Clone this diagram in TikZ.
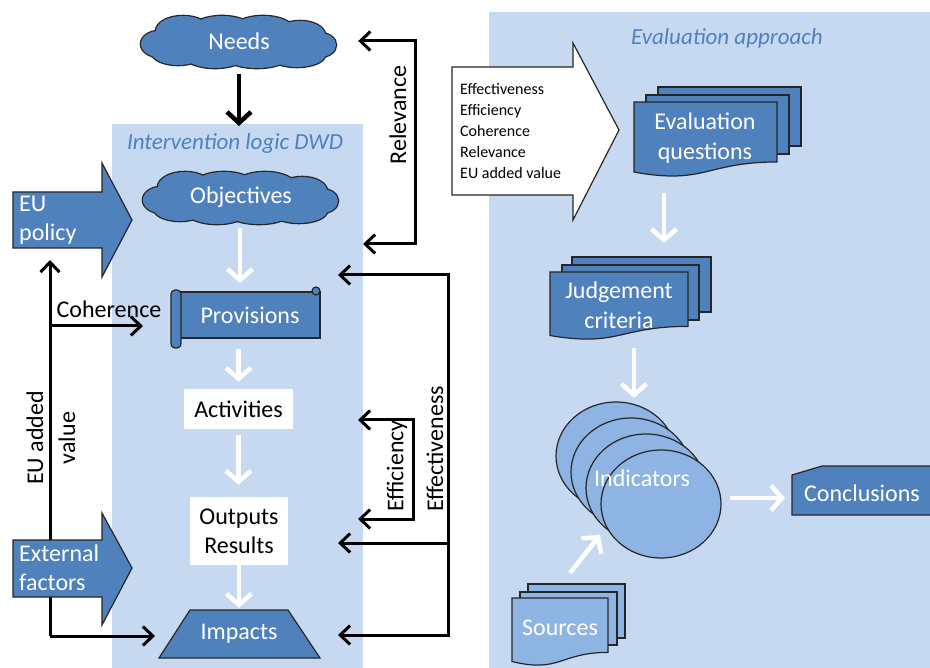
\documentclass[tikz,border=0pt]{standalone}
\usepackage{fontspec}
\setmainfont{Carlito}
\usetikzlibrary{arrows.meta,shapes.symbols,shapes.geometric,calc}
\definecolor{panel}{RGB}{198,217,241}
\definecolor{dblue}{RGB}{79,129,189}
\definecolor{lblue}{RGB}{141,180,226}
\definecolor{ttl}{RGB}{79,129,189}
\newcommand\docfront[5]{%
\draw[line width=1.2, draw=black!85, fill=#1] (#2,#4) -- (#3,#4) -- (#3,{#4+0.8*#5}) .. controls ({(#2+#3)/2},{#4+0.8*#5}) and ({(#2+#3)/2},{#4+1.107*#5}) .. (#2,{#4+0.934*#5}) -- cycle;}
\newcommand\puffset{-80/2/18/13, -56/-11/27/15, -17/-14/29/12, 24/-13/30/13, 61/-7/25/14, 81/3/16/12, 58/13/28/12, 18/14/32/12, -24/14/30/12, -61/11/26/12, 0/0/80/18}
\newcommand\mycloud[2]{%
\begin{scope}[shift={(#1,#2)}]
\foreach \a/\b/\rx/\ry in \puffset {\draw[draw=black!85, line width=2.6, fill=dblue] (\a,\b) ellipse ({\rx pt} and {\ry pt});}
\foreach \a/\b/\rx/\ry in \puffset {\fill[dblue] (\a,\b) ellipse ({\rx pt} and {\ry pt});}
\end{scope}}
\begin{document}
\begin{tikzpicture}[x=1pt,y=-1pt,
  every node/.style={font=\fontsize{24}{29}\selectfont},
  cloudtext/.style={minimum width=192, minimum height=52, text=white, inner sep=0},
  bk/.style={line width=3, -{Straight Barb[length=10pt,width=19pt]}, black},
  bkb/.style={line width=3, {Straight Barb[length=10pt,width=19pt]}-{Straight Barb[length=10pt,width=19pt]}, black},
  wt/.style={line width=4.5, -{Straight Barb[length=11pt,width=25pt]}, white},
  shp/.style={fill=dblue, draw=black!85, line width=1.2},
  lshp/.style={fill=lblue, draw=black!85, line width=1.2},
  ttlstyle/.style={text=ttl, font=\fontsize{23}{28}\selectfont\itshape},
  wtext/.style={text=white, inner sep=0, align=center},
]
\useasboundingbox (0,0) rectangle (930,668);
\fill[white] (0,0) rectangle (930,668);
\fill[panel] (112,124) rectangle (363,668);
\fill[panel] (489,12) rectangle (930,668);
\node[ttlstyle] (t1) at (235,143) {Intervention logic DWD};
\node[ttlstyle] (t2) at (727,38) {Evaluation approach};

% ---------- left column nodes
\mycloud{239}{42}
\node[cloudtext] (needs) at (239,41) {Needs};
\mycloud{241}{198}
\node[cloudtext] (obj) at (241,197) {Objectives};
\coordinate (needsin) at (239,126);
\draw[line width=4.5, -{Straight Barb[length=11pt,width=24pt]}, shorten <=7pt] (needs.south) -- (needsin);

% Provisions scroll
\node[shp, minimum width=140, minimum height=46, inner sep=0, text=white] (prov) at (250,315) {Provisions};
\draw[shp, rounded corners=4] (171,290) rectangle (181,348);
\draw[shp] (316,291) circle (4pt);

\node[fill=white, minimum width=109, minimum height=40, inner sep=0] (act) at (238.5,409) {Activities};
\node[fill=white, minimum width=98, minimum height=68, inner sep=0, align=center] (out) at (239,531) {Outputs\\Results};

\fill[dblue] (159,658) -- (190,610) -- (288,610) -- (320,658) -- cycle;
\draw[line width=1.2, black!85] (159,658) -- (190,610) -- (288,610) -- (320,658) -- cycle;
\node[wtext, minimum width=98, minimum height=48] (imp) at (239,634) {Impacts};

% white arrows in the column
\draw[wt, shorten <=5pt, shorten >=9pt] (240,223) -- (240,292);
\draw[wt, shorten <=10pt, shorten >=7pt] (act.north |- prov.south) -- (act.north);
\draw[wt, shorten <=6pt, shorten >=12pt] (act.south) -- (act.south |- out.north);
\draw[wt, shorten >=2pt] (out.south) -- (imp.north);

% ---------- Relevance
\coordinate (relin) at (363,244);
\draw[bkb, shorten <=23pt] (needs.east) -- (415,41) -- (415,244) -- (relin);
\node[rotate=90] (rel) at (398,115) {Relevance};

% ---------- Effectiveness
\coordinate (ef1) at (338,275);
\coordinate (ef2) at (338,543);
\coordinate (ef3) at (338,635);
\draw[bkb] (ef1) -- (448,275) -- (448,635) -- (ef3);
\draw[bk] (448,543) -- (ef2);
\node[rotate=90] (effl) at (435,449) {Effectiveness};

% ---------- Efficiency
\coordinate (ey1) at (358,420);
\coordinate (ey2) at (358,519);
\draw[bkb] (ey1) -- (413,420) -- (413,519) -- (ey2);
\node[rotate=90] (effy) at (397,466) {Efficiency};

% ---------- Coherence / EU added value
\coordinate (euup) at (50,260);
\coordinate (cohin) at (143,326);
\coordinate (impin) at (155,636);
\draw[bk] (50,636) -- (euup);
\draw[bk] (50,636) -- (impin);
\draw[bk] (50,326) -- (cohin);
\node (coh) at (109,309) {Coherence};
\node[rotate=90, align=center, font=\fontsize{24}{32}\selectfont] (euav) at (51,438) {EU added\\value};

% block arrows
\draw[shp] (13,192) -- (102,192) -- (102,163) -- (132,220) -- (102,277) -- (102,248) -- (13,248) -- cycle;
\node[wtext, anchor=west, align=left] (eup) at (19,220) {EU\\policy};
\draw[shp] (13,540) -- (102,540) -- (102,513) -- (132,568) -- (102,625) -- (102,597) -- (13,597) -- cycle;
\node[wtext, anchor=west, align=left] (ext) at (19,568) {External\\factors};

% ---------- right side
\draw[fill=white, draw=black!85, line width=1.2] (452,67) -- (573,67) -- (573,43) -- (619,130) -- (573,220) -- (573,195) -- (452,195) -- cycle;
\node[anchor=west, align=left, inner sep=0, font=\fontsize{16}{21}\selectfont] (crit) at (460,131) {Effectiveness\\Efficiency\\Coherence\\Relevance\\EU added value};

% Evaluation questions
\draw[shp] (658,87) rectangle (801,146);
\draw[shp] (646,95) rectangle (789,154);
\docfront{dblue}{634}{777}{102}{75}
\node[wtext, font=\fontsize{24}{30}\selectfont] (eq) at (705,138) {Evaluation\\questions};

% Judgement criteria
\draw[shp] (572,257) rectangle (711,312);
\draw[shp] (562,265) rectangle (699,320);
\docfront{dblue}{550}{688}{272}{68}
\node[wtext, font=\fontsize{24}{30}\selectfont] (jc) at (619,305) {Judgement\\criteria};

\coordinate (eqout) at (664,193);
\coordinate (jcin) at (664,243);
\draw[wt] (eqout) -- (jcin);

% Indicators
\node[ellipse, lshp, minimum width=120, minimum height=108] (ind1) at (616,456) {};
\node[ellipse, lshp, minimum width=120, minimum height=108] (ind2) at (631,472) {};
\node[ellipse, lshp, minimum width=120, minimum height=108] (ind3) at (646,488) {};
\node[ellipse, lshp, minimum width=120, minimum height=108] (ind4) at (661,504) {};
\node[wtext] (ind) at (642,478) {Indicators};

\coordinate (jcout) at (634,348);
\coordinate (indin) at (634,398);
\draw[wt] (jcout) -- (indin);

% Conclusions
\draw[shp] (792,475) -- (822,466) -- (931,466) -- (931,515) -- (792,515) -- cycle;
\node[wtext] (concl) at (862,493) {Conclusions};
\coordinate (indout) at (730,498);
\coordinate (conin) at (785,498);
\draw[wt] (indout) -- (conin);

% Sources
\draw[lshp] (528,584) rectangle (625,638);
\draw[lshp] (520,592) rectangle (617,645);
\docfront{lblue}{512}{608}{598}{68}
\node[wtext] (src) at (560,628) {Sources};
\coordinate (srcout) at (570,573);
\coordinate (srcin) at (600,535);
\draw[wt] (srcout) -- (srcin);
\end{tikzpicture}
\end{document}
